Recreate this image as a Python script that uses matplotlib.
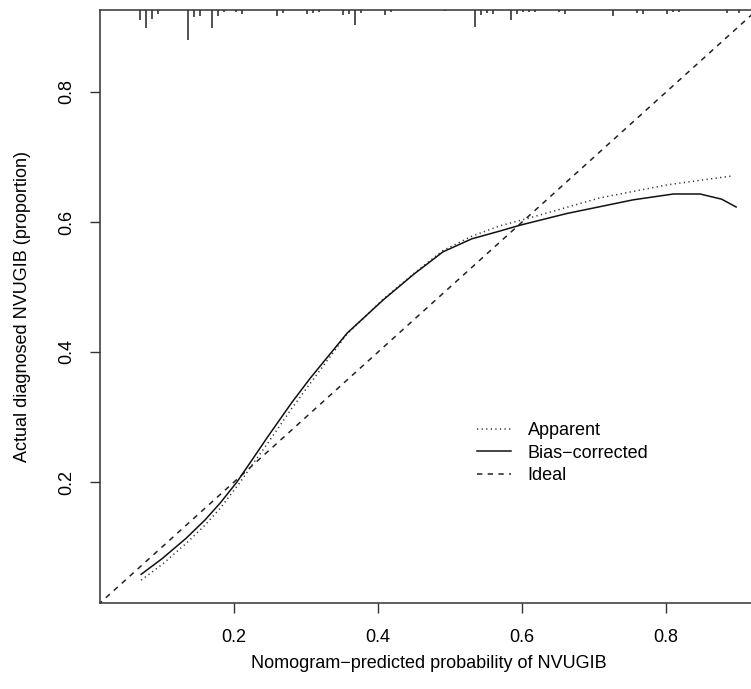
#!/usr/bin/env python3

"""
calibration curve of the NVUGIB nomogram
"""

import matplotlib
matplotlib.use("Agg")
import matplotlib.pyplot as plt
import matplotlib.transforms as mtransforms

plt.rcParams["font.family"] = ["Liberation Sans", "DejaVu Sans"]

# bias-corrected curve (solid)
bc_x = [0.071, 0.10, 0.134, 0.160, 0.181, 0.204, 0.225, 0.247, 0.280, 0.306,
        0.357, 0.407, 0.450, 0.490, 0.530, 0.569, 0.597, 0.662, 0.754, 0.810,
        0.847, 0.877, 0.897]
bc_y = [0.058, 0.082, 0.114, 0.142, 0.168, 0.200, 0.234, 0.270, 0.322, 0.360,
        0.429, 0.480, 0.520, 0.554, 0.574, 0.586, 0.595, 0.613, 0.634, 0.643,
        0.643, 0.635, 0.623]

# apparent curve (dotted)
ap_x = [0.071, 0.10, 0.134, 0.160, 0.181, 0.208, 0.225, 0.247, 0.280, 0.306,
        0.357, 0.407, 0.450, 0.490, 0.530, 0.569, 0.616, 0.708, 0.801, 0.893]
ap_y = [0.049, 0.073, 0.106, 0.134, 0.160, 0.199, 0.226, 0.260, 0.313, 0.352,
        0.428, 0.481, 0.521, 0.556, 0.578, 0.594, 0.608, 0.637, 0.657, 0.671]

# rug of predicted probabilities along the top (relative spike heights)
rug_x = [0.0694, 0.0778, 0.0861, 0.0944, 0.1357, 0.1444, 0.1528, 0.1694, 0.1778,
         0.1861, 0.2028, 0.2111, 0.2597, 0.2681, 0.3014, 0.3097, 0.3181, 0.3514,
         0.3597, 0.3681, 0.3764, 0.4097, 0.4181, 0.4931, 0.5347, 0.5431, 0.5514,
         0.5597, 0.5843, 0.5926, 0.6010, 0.6093, 0.6176, 0.6510, 0.6593, 0.7260,
         0.7593, 0.7676, 0.8010, 0.8093, 0.8176, 0.8843, 0.9010]
rug_h = [10, 18, 9, 4, 30, 7, 6, 18, 6, 2, 2, 4, 6, 3, 4, 3, 2, 5, 4, 15, 3, 5,
         2, 1, 17, 5, 3, 4, 10, 4, 2, 2, 2, 2, 4, 6, 3, 4, 4, 2, 2, 3, 3]

ticks = [0.2, 0.4, 0.6, 0.8]
lims = (0.0139, 0.926)

fig = plt.figure(figsize=(7.51, 6.89), dpi=100)
ax = fig.add_axes([100 / 751, 86 / 689, 657 / 751, 593 / 689])

ax.plot([0, 1], [0, 1], color="#222222", lw=1.1, linestyle=(0, (3.5, 3.5)),
        label="Ideal", zorder=2)
ax.plot(ap_x, ap_y, color="#333333", lw=1.1, linestyle=(0, (0.8, 2.2)),
        label="Apparent", zorder=3)
ax.plot(bc_x, bc_y, color="#111111", lw=1.1, label="Bias-corrected", zorder=4)

# spikes hanging from the top box line, max spike = 5% of the axis height
trans = mtransforms.blended_transform_factory(ax.transData, ax.transAxes)
hmax = max(rug_h)
ax.vlines(rug_x, [1 - 0.05 * h / hmax for h in rug_h], 1, transform=trans,
          color="#333333", lw=1.2)

ax.set_xlim(lims)
ax.set_ylim(lims)
ax.set_xticks(ticks)
ax.set_yticks(ticks)
ax.set_xticklabels([f"{t:.1f}" for t in ticks])
ax.set_yticklabels([f"{t:.1f}" for t in ticks], rotation=90, va="center")
ax.tick_params(length=7.5, width=1, color="#333333", labelsize=13,
               direction="out")
ax.tick_params(axis="x", pad=11)
ax.tick_params(axis="y", pad=10)
for s in ax.spines.values():
    s.set_color("#333333")
    s.set_linewidth(1.1)

ax.set_xlabel("Nomogram\u2212predicted probability of NVUGIB", fontsize=13,
              labelpad=7)
ax.set_ylabel("Actual diagnosed NVUGIB (proportion)", fontsize=13, labelpad=20)

h, l = ax.get_legend_handles_labels()
order = [1, 2, 0]
ax.legend([h[i] for i in order], ["Apparent", "Bias\u2212corrected", "Ideal"],
          loc="upper left", bbox_to_anchor=(0.574, 0.305), frameon=False,
          fontsize=13, handlelength=1.85, handletextpad=0.95,
          labelspacing=0.3, borderpad=0, borderaxespad=0)

fig.savefig("out.png", dpi=100)
plt.close(fig)
